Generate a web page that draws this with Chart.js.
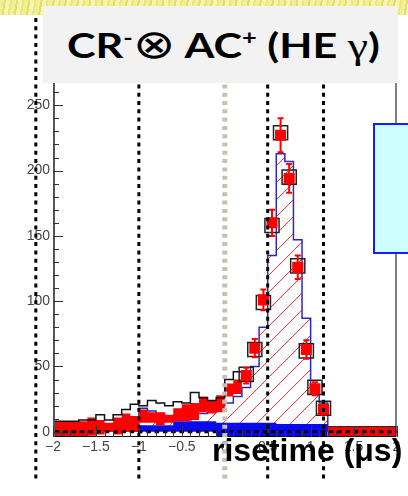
<!DOCTYPE html>
<html>
<head>
<meta charset="utf-8">
<script src="https://cdn.jsdelivr.net/npm/chart.js@4.4.1/dist/chart.umd.min.js"></script>
<style>
  html, body { margin: 0; padding: 0; background: #fff; }
  #wrap { position: relative; width: 408px; height: 496px; overflow: hidden; }
  #band { position: absolute; left: 0; top: 0; width: 408px; height: 15px;
    background: repeating-linear-gradient(100deg, #f2ef95 0 4px, #e2dd72 4px 6px, #f6f4ad 6px 10px, #e9e57f 10px 12px); }
  canvas { position: absolute; left: 0; top: 0; }
  #title { position: absolute; left: 43px; top: 6px; width: 355px; height: 77px; background: #f2f2f2; }
  #title span.t { position: absolute; left: 24px; top: 15px; line-height: 40px; white-space: nowrap;
    font: bold 34px Lato, "Open Sans", sans-serif; color: #000;
    transform: scaleX(1.27); transform-origin: 0 50%; }
  #title sup { font-size: 20px; vertical-align: 13px; line-height: 0; }
  #title .ot { font: 40px "DejaVu Sans", sans-serif; }
  #title .g { font: 36px "Liberation Serif", serif; }
  #legendBox { position: absolute; left: 373px; top: 123px; width: 40px; height: 127px;
    background: #ccffff; border: 2px solid #1a1aff; }
  #xtitle { position: absolute; left: 212px; top: 432px; line-height: 32px; white-space: nowrap;
    font: bold 32px "Liberation Sans", Arial, sans-serif; color: #000; }
</style>
</head>
<body>
<div id="wrap">
  <div id="band"></div>
  <canvas id="c" width="408" height="496"></canvas>
  <div id="title"><span class="t">CR<sup>-</sup><span class="ot">⊗</span> AC<sup>+</sup> (HE <span class="g">γ</span>)</span></div>
  <div id="legendBox"></div>
  <div id="xtitle">risetime (μs)</div>
</div>
<script>
// bin width of all histograms (risetime, µs)
const binW = 0.1;

// black open histogram, bins from -2.0
const blackStart = -2.0;
const blackHist = [8, 8, 8, 9, 9, 13, 9, 13, 17, 21, 20, 24, 22, 20, 23, 22, 30, 26, 24, 26, 40, 46, 40];

// red error boxes, low region, bins from -2.0
const redStart = -2.0;
const redLow  = [-4, -4, -4, -4, -3, -2, 0, -2, 0, 0, 7, 7, 5, 7, 8, 8, 9, 15, 14, 15, 27, 29];
const redHigh = [8, 8, 8, 8, 11, 9, 7, 11, 14, 12, 17, 15, 15, 13, 18, 21, 22, 27, 24, 28, 37, 40];

// red error boxes, high region, bins from 1.2
const redRStart = 1.2;
const redRLow  = [-4, -4, -4, -4, -4, -4, -4, -4];
const redRHigh = [4, 4, 4, 4, 4, 4, 4, 4];

// blue filled band, bins from -2.0
const blueStart = -2.0;
const blueLow  = [0, 0, 0, 0, 0, 0, 0, 0, 0, 0, 0, 0, 0, 0, 0, 0, 0, 0, 0,
  -4, -4, -4, -4, -4, -4, -4, -4, -4, -4, -4, -4, -4];
const blueHigh = [5, 5, 5, 5, 5, 5, 5, 5, 5, 5, 5, 5, 5, 5, 8, 8, 8, 8, 8,
  7, 7, 7, 7, 7, 7, 7, 6, 6, 6, 6, 6, 6];

// hatched simulation histogram, bins from -1.0
const mcStart = -1.0;
const mcHist = [18, 16, 14, 12, 12, 12, 14, 14, 16, 20, 22, 27, 34, 50, 80, 135, 213, 207, 147, 87, 36, 22];

// red data points with errors (peak)
const peakX   = [0.25, 0.35, 0.45, 0.55, 0.65, 0.75, 0.85, 0.95, 1.05, 1.15];
const peakY   = [43, 64, 101, 160, 227, 194, 126, 63, 33, 17];
const peakErr = [6, 7, 8, 10, 13, 11, 9, 7, 5, 4];
// black open squares
const blackSqY = [44, 63, 99, 158, 229, 195, 127, 62, 34, 18];

const xTicks = [-2, -1.5, -1, -0.5, 0, 0.5, 1, 1.5, 2];
const yTicks = [0, 50, 100, 150, 200, 250];

// dotted cut lines drawn over the plot
const cutLines = [-2.2, -1, 0.5, 1.15];
const grayCut = 0;

function steps(start, vals, close) {
  const pts = [];
  if (close) pts.push({x: start, y: 0});
  vals.forEach((v, i) => pts.push({x: +(start + i * binW).toFixed(2), y: v}));
  const end = +(start + vals.length * binW).toFixed(2);
  pts.push({x: end, y: close ? 0 : vals[vals.length - 1]});
  return pts;
}

function hatch() {
  const s = 17;
  const c = document.createElement('canvas');
  c.width = s; c.height = s;
  const g = c.getContext('2d');
  g.strokeStyle = 'rgba(255,20,20,0.85)';
  g.lineWidth = 1;
  g.beginPath();
  g.moveTo(0, s); g.lineTo(s, 0);
  g.moveTo(-s / 2, s / 2); g.lineTo(s / 2, -s / 2);
  g.moveTo(s / 2, s * 1.5); g.lineTo(s * 1.5, s / 2);
  g.stroke();
  return g.createPattern(c, 'repeat');
}

const flat = {pointRadius: 0, borderWidth: 0, stepped: 'before'};

const overlay = {
  id: 'overlay',
  afterDatasetsDraw(chart) {
    const ctx = chart.ctx, x = chart.scales.x, y = chart.scales.y, a = chart.chartArea;
    ctx.save();
    // error bars
    ctx.strokeStyle = '#ff0000';
    ctx.lineWidth = 2;
    peakX.forEach((v, i) => {
      const px = x.getPixelForValue(v);
      const y1 = y.getPixelForValue(peakY[i] + peakErr[i]);
      const y2 = y.getPixelForValue(peakY[i] - peakErr[i]);
      ctx.beginPath();
      ctx.moveTo(px, y1); ctx.lineTo(px, y2);
      ctx.moveTo(px - 3, y1); ctx.lineTo(px + 3, y1);
      ctx.moveTo(px - 3, y2); ctx.lineTo(px + 3, y2);
      ctx.stroke();
    });
    // zero line
    ctx.strokeStyle = '#000';
    ctx.lineWidth = 3;
    ctx.setLineDash([4.5, 3.8]);
    const y0 = y.getPixelForValue(0);
    ctx.beginPath(); ctx.moveTo(a.left + 2, y0); ctx.lineTo(a.right, y0); ctx.stroke();
    ctx.setLineDash([]);
    // frame
    ctx.lineWidth = 1;
    ctx.strokeStyle = '#000';
    ctx.beginPath();
    ctx.moveTo(a.left, a.top + 0.5); ctx.lineTo(a.right - 0.5, a.top + 0.5);
    ctx.lineTo(a.right - 0.5, a.bottom - 0.5); ctx.lineTo(a.left, a.bottom - 0.5);
    ctx.stroke();
    ctx.strokeStyle = '#555';
    ctx.lineWidth = 2;
    ctx.beginPath(); ctx.moveTo(a.left + 1, a.top); ctx.lineTo(a.left + 1, a.bottom); ctx.stroke();
    // inward ticks
    ctx.lineWidth = 1;
    ctx.strokeStyle = '#333';
    ctx.beginPath();
    for (let v = 0; v <= y.max; v += 10) {
      const py = Math.round(y.getPixelForValue(v)) + 0.5;
      ctx.moveTo(a.left, py); ctx.lineTo(a.left + (v % 50 === 0 ? 10 : 6), py);
    }
    for (let k = -20; k <= 20; k++) {
      const px = Math.round(x.getPixelForValue(k / 10)) + 0.5;
      ctx.moveTo(px, a.bottom); ctx.lineTo(px, a.bottom - (k % 5 === 0 ? 11 : 6));
    }
    ctx.stroke();
    ctx.restore();
  },
  afterDraw(chart) {
    const ctx = chart.ctx, x = chart.scales.x;
    ctx.save();
    ctx.setLineDash([4, 4.3]);
    ctx.strokeStyle = '#c8bfb7';
    ctx.lineWidth = 5;
    let px = x.getPixelForValue(grayCut);
    ctx.beginPath(); ctx.moveTo(px, 18); ctx.lineTo(px, 480); ctx.stroke();
    ctx.strokeStyle = '#000';
    ctx.lineWidth = 3;
    cutLines.forEach(v => {
      px = x.getPixelForValue(v);
      ctx.beginPath(); ctx.moveTo(px, 18); ctx.lineTo(px, 480); ctx.stroke();
    });
    ctx.restore();
  }
};

const tickFont = {family: '"Liberation Sans", Arial, sans-serif', size: 14};

new Chart(document.getElementById('c'), {
  type: 'line',
  data: {
    datasets: [
      {data: peakX.map((v, i) => ({x: v, y: peakY[i]})), showLine: false, pointStyle: 'rect',
        pointRadius: 7.8, pointBackgroundColor: '#ff0000', pointBorderWidth: 0, order: 0},
      {data: peakX.map((v, i) => ({x: v, y: blackSqY[i]})), showLine: false, pointStyle: 'rect',
        pointRadius: 10, pointBackgroundColor: 'rgba(0,0,0,0)', pointBorderColor: '#222', pointBorderWidth: 1.5, order: 1},
      {data: steps(blackStart, blackHist, false), stepped: 'before', pointRadius: 0,
        borderColor: '#111', borderWidth: 1.5, fill: false, order: 2},
      {data: steps(redStart, redLow, false), ...flat, fill: false, order: 3},
      {data: steps(redStart, redHigh, false), ...flat, fill: 3, backgroundColor: '#ff0000', order: 3},
      {data: steps(redRStart, redRLow, false), pointRadius: 0, stepped: 'before', borderWidth: 1, borderColor: '#222', fill: false, order: 3},
      {data: steps(redRStart, redRHigh, false), pointRadius: 0, stepped: 'before', borderWidth: 1, borderColor: '#222', fill: 5, backgroundColor: '#ff0000', order: 3},
      {data: steps(blueStart, blueLow, false), ...flat, fill: false, order: 4},
      {data: steps(blueStart, blueHigh, false), ...flat, fill: 7, backgroundColor: '#0a0af0', order: 4},
      {data: steps(mcStart, mcHist, true), stepped: 'before', pointRadius: 0,
        borderColor: '#2a2ab8', borderWidth: 1.5, fill: 'origin', backgroundColor: hatch(), order: 5}
    ]
  },
  options: {
    responsive: false,
    animation: false,
    events: [],
    layout: {padding: {left: 0, right: 4, top: 57, bottom: 39}},
    plugins: {legend: {display: false}, tooltip: {enabled: false}},
    scales: {
      x: {
        type: 'linear', min: -2, max: 2,
        afterBuildTicks: s => { s.ticks = xTicks.map(v => ({value: v})); },
        afterFit: s => { s.height = 20; },
        grid: {display: false, drawTicks: false},
        border: {display: false},
        ticks: {font: tickFont, color: '#444', padding: 2, maxRotation: 0, autoSkip: false,
          callback: v => String(v).replace('-', '\u2212')}
      },
      y: {
        type: 'linear', min: -4, max: 287,
        afterBuildTicks: s => { s.ticks = yTicks.map(v => ({value: v})); },
        afterFit: s => { s.width = 53; },
        grid: {display: false, drawTicks: false},
        border: {display: false},
        ticks: {font: tickFont, color: '#444', padding: 3}
      }
    }
  },
  plugins: [overlay]
});
</script>
</body>
</html>
